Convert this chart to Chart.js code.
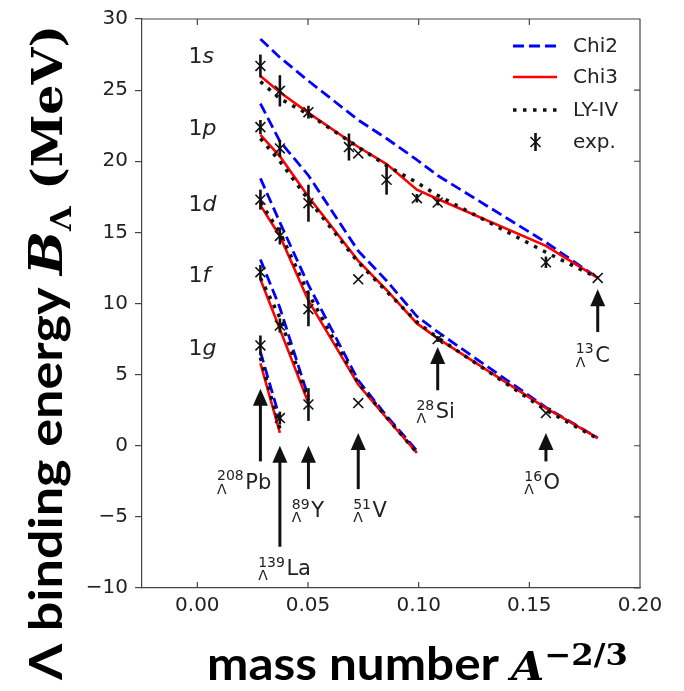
<!DOCTYPE html>
<html>
<head>
<meta charset="utf-8">
<script src="https://cdn.jsdelivr.net/npm/chart.js@4.4.1/dist/chart.umd.min.js"></script>
<style>
  html, body { margin: 0; padding: 0; background: #fff; }
  #wrap { width: 684px; height: 691px; }
</style>
</head>
<body>
<div id="wrap"><canvas id="chart" width="684" height="691"></canvas></div>
<script>
// A^-2/3 of the calculated hypernuclei: Pb, La, Y, V, Ca, S, Si, O, C
const nucX = [0.0285, 0.0373, 0.0502, 0.0727, 0.0855, 0.0992, 0.1086, 0.1575, 0.1809];

// Chi2 (blue dashed)
const chi2_1s = [28.6, 27.3, 25.65, 22.9, 21.6, 20.1, 19.0, 14.3, 11.8];
const chi2_1p = [24.05, 21.4, 19.0, 13.7, 11.6, 9.1, 8.0, 2.7, 0.55];
const chi2_1d = [18.8, 15.7, 11.3, 4.6, 2.1, -0.35];
const chi2_1f = [13.1, 9.7, 3.4];
const chi2_1g = [6.6, 1.9];

// Chi3 (red solid)
const chi3_1s = [26.0, 24.85, 23.4, 21.0, 19.8, 18.0, 17.35, 14.05, 11.8];
const chi3_1p = [21.85, 20.35, 17.5, 13.0, 10.95, 8.6, 7.55, 2.65, 0.55];
const chi3_1d = [16.9, 14.75, 10.2, 4.3, 1.95, -0.5];
const chi3_1f = [11.7, 8.2, 3.0];
const chi3_1g = [5.8, 0.9];

// LY-IV (black dotted)
const ly4_1s = [25.6, 24.4, 23.3, 21.0, 19.7, 18.5, 17.6, 13.6, 11.8];
const ly4_1p = [21.6, 20.0, 17.3, 12.9, 10.85, 8.7, 7.6, 2.5, 0.5];
const ly4_1d = [17.1, 15.0, 10.7, 4.4, 2.0, -0.5];
const ly4_1f = [11.8, 9.0, 3.2];
const ly4_1g = [6.2, 1.2];

// experiment
const expX = [0.0285, 0.0285, 0.0285, 0.0285, 0.0285,
              0.0373, 0.0373, 0.0373, 0.0373, 0.0373,
              0.0502, 0.0502, 0.0502, 0.0502,
              0.0685, 0.0727, 0.0727, 0.0727,
              0.0855, 0.0992, 0.1086, 0.1086, 0.1575, 0.1575, 0.1809];
const expY = [26.7, 22.4, 17.3, 12.2, 7.05,
              24.95, 20.9, 14.75, 8.45, 1.95,
              23.45, 17.05, 9.6, 2.9,
              21.0, 20.55, 11.7, 3.0,
              18.7, 17.4, 17.1, 7.5, 12.9, 2.3, 11.8];
const expErr = [0.8, 0.5, 0.7, 0.5, 0.7,
                1.1, 0.6, 0.6, 0.5, 0.45,
                0.45, 1.3, 1.2, 1.15,
                0.95, 0, 0, 0,
                1.05, 0.3, 0.2, 0.2, 0.4, 0, 0];

const xTicks = [0.00, 0.05, 0.10, 0.15, 0.20];
const yTicks = [-10, -5, 0, 5, 10, 15, 20, 25, 30];

const shellNames = ['s', 'p', 'd', 'f', 'g'];
const shellLabelY = [26.9, 21.85, 16.5, 11.5, 6.4];

// hypernucleus markers: arrow from/to (B in MeV), label anchor (left, baseline)
const nuclei = [
  { mass: '208', sym: 'Pb', x: 0.0285, from: -1.1, to: 4.0,  lx: 0.0089, ly: -3.04 },
  { mass: '139', sym: 'La', x: 0.0373, from: -7.1, to: 0.0,  lx: 0.0275, ly: -9.1 },
  { mass: '89',  sym: 'Y',  x: 0.0502, from: -3.05, to: 0.0, lx: 0.0427, ly: -5.04 },
  { mass: '51',  sym: 'V',  x: 0.0727, from: -3.05, to: 0.9, lx: 0.0704, ly: -5.04 },
  { mass: '28',  sym: 'Si', x: 0.1086, from: 3.9, to: 6.95,  lx: 0.099,  ly: 1.94 },
  { mass: '16',  sym: 'O',  x: 0.1575, from: -1.1, to: 0.9,  lx: 0.1477, ly: -3.06 },
  { mass: '13',  sym: 'C',  x: 0.1809, from: 8.0, to: 11.0,  lx: 0.171,  ly: 5.9 }
];

const BLUE = '#0000ff', RED = '#ff0000', BLACK = '#111111';

const pts = (vals) => vals.map((v, i) => ({ x: nucX[i], y: v }));

const model = (vals, color, dash, width) => ({
  data: pts(vals),
  showLine: true,
  pointRadius: 0,
  borderColor: color,
  borderWidth: width,
  borderDash: dash,
  borderCapStyle: 'butt',
  fill: false
});

const datasets = [
  {
    label: 'exp.',
    data: expX.map((v, i) => ({ x: v, y: expY[i] })),
    pointStyle: 'crossRot',
    pointRadius: 7,
    borderColor: BLACK,
    borderWidth: 1.6,
    showLine: false
  }
];
[ly4_1s, ly4_1p, ly4_1d, ly4_1f, ly4_1g].forEach(a => datasets.push(model(a, BLACK, [3.5, 6.5], 3.5)));
[chi3_1s, chi3_1p, chi3_1d, chi3_1f, chi3_1g].forEach(a => datasets.push(model(a, RED, [], 2.6)));
[chi2_1s, chi2_1p, chi2_1d, chi2_1f, chi2_1g].forEach(a => datasets.push(model(a, BLUE, [11, 5], 2.8)));

function drawSegments(ctx, segs, x0, y0) {
  let x = x0;
  segs.forEach(s => {
    ctx.font = s.f;
    ctx.fillText(s.t, x, y0 + (s.dy || 0));
    x += ctx.measureText(s.t).width;
  });
}
function segWidth(ctx, segs) {
  let w = 0;
  segs.forEach(s => { ctx.font = s.f; w += ctx.measureText(s.t).width; });
  return w;
}
// draws a mixed-font title so that it spans exactly `len` px along its direction
function fitTitle(ctx, segs, cx, cy, len, rot) {
  const w = segWidth(ctx, segs);
  ctx.save();
  ctx.translate(cx, cy);
  ctx.rotate(rot);
  ctx.scale(len / w, 1);
  drawSegments(ctx, segs, -w / 2, 0);
  ctx.restore();
}

const decor = {
  id: 'decor',
  afterDatasetsDraw(chart) {
    const { ctx, scales: { x, y } } = chart;
    ctx.save();
    ctx.strokeStyle = BLACK;
    ctx.lineWidth = 2.6;
    expX.forEach((v, i) => {
      if (!expErr[i]) return;
      const px = x.getPixelForValue(v);
      ctx.beginPath();
      ctx.moveTo(px, y.getPixelForValue(expY[i] - expErr[i]));
      ctx.lineTo(px, y.getPixelForValue(expY[i] + expErr[i]));
      ctx.stroke();
    });
    ctx.restore();
  },
  afterDraw(chart) {
    const { ctx, chartArea: a, scales: { x, y } } = chart;
    ctx.save();

    // frame top/right + inward ticks
    ctx.strokeStyle = '#444';
    ctx.lineWidth = 1.2;
    ctx.beginPath();
    ctx.moveTo(a.left, a.top); ctx.lineTo(a.right, a.top); ctx.lineTo(a.right, a.bottom);
    xTicks.forEach(t => {
      const px = x.getPixelForValue(t);
      ctx.moveTo(px, a.top); ctx.lineTo(px, a.top + 6);
      ctx.moveTo(px, a.bottom); ctx.lineTo(px, a.bottom - 6);
    });
    yTicks.forEach(t => {
      const py = y.getPixelForValue(t);
      ctx.moveTo(a.right, py); ctx.lineTo(a.right - 6, py);
    });
    ctx.stroke();

    // shell labels
    ctx.fillStyle = '#222';
    ctx.textBaseline = 'alphabetic';
    shellNames.forEach((s, i) => {
      drawSegments(ctx, [
        { t: '1', f: '22px "DejaVu Sans"' },
        { t: s, f: 'italic 22px "DejaVu Sans"' }
      ], x.getPixelForValue(-0.004), y.getPixelForValue(shellLabelY[i]));
    });

    // arrows + hypernucleus labels
    ctx.fillStyle = BLACK;
    ctx.strokeStyle = BLACK;
    nuclei.forEach(n => {
      const px = x.getPixelForValue(n.x);
      const yb = y.getPixelForValue(n.from);
      const yt = y.getPixelForValue(n.to);
      const hl = 17, hw = 7.5;
      ctx.lineWidth = 3;
      ctx.beginPath();
      ctx.moveTo(px, yb); ctx.lineTo(px, yt + hl - 1);
      ctx.stroke();
      ctx.beginPath();
      ctx.moveTo(px, yt); ctx.lineTo(px - hw, yt + hl); ctx.lineTo(px + hw, yt + hl);
      ctx.closePath();
      ctx.fill();

      const lx = x.getPixelForValue(n.lx);
      const ly = y.getPixelForValue(n.ly);
      ctx.fillStyle = '#222';
      ctx.font = '14px "DejaVu Sans"';
      const wm = ctx.measureText(n.mass).width;
      ctx.fillText(n.mass, lx, ly - 8.5);
      ctx.fillText('\u039B', lx, ly + 5);
      const wl = ctx.measureText('\u039B').width;
      ctx.font = '21px "DejaVu Sans"';
      ctx.fillText(n.sym, lx + Math.max(wm, wl) + 1.5, ly);
      ctx.fillStyle = BLACK;
    });

    // legend
    const lx0 = a.right - 127, lx1 = a.right - 83, tx = a.right - 67;
    const rows = [a.top + 27, a.top + 58, a.top + 91, a.top + 123];
    ctx.lineCap = 'butt';
    [[BLUE, [11, 5], 2.8], [RED, [], 2.6], [BLACK, [3.5, 6.5], 3.5]].forEach((st, i) => {
      ctx.strokeStyle = st[0]; ctx.setLineDash(st[1]); ctx.lineWidth = st[2];
      ctx.beginPath(); ctx.moveTo(lx0, rows[i]); ctx.lineTo(lx1, rows[i]); ctx.stroke();
    });
    ctx.setLineDash([]);
    const mx = (lx0 + lx1) / 2 + 0.5, my = rows[3];
    ctx.strokeStyle = BLACK;
    ctx.lineWidth = 1.6;
    ctx.beginPath();
    ctx.moveTo(mx - 5, my - 5); ctx.lineTo(mx + 5, my + 5);
    ctx.moveTo(mx + 5, my - 5); ctx.lineTo(mx - 5, my + 5);
    ctx.stroke();
    ctx.lineWidth = 2.6;
    ctx.beginPath(); ctx.moveTo(mx, my - 9); ctx.lineTo(mx, my + 9); ctx.stroke();
    ctx.fillStyle = '#222';
    ctx.font = '20px "DejaVu Sans"';
    ctx.textBaseline = 'middle';
    ['Chi2', 'Chi3', 'LY-IV', 'exp.'].forEach((t, i) => ctx.fillText(t, tx, rows[i] + 1));

    // axis titles
    ctx.fillStyle = '#000';
    ctx.textBaseline = 'alphabetic';
    fitTitle(ctx, [
      { t: 'mass number ', f: 'bold 46px Lato' },
      { t: 'A', f: 'italic bold 40px "DejaVu Serif"' },
      { t: '\u22122/3', f: 'bold 30px "DejaVu Serif"', dy: -15 }
    ], 417.5, 680, 421, 0);

    fitTitle(ctx, [
      { t: '\u039B binding energy ', f: 'bold 46px Lato' },
      { t: 'B', f: 'italic bold 46px "DejaVu Serif"' },
      { t: '\u039B', f: 'bold 28px "DejaVu Serif"', dy: 9 },
      { t: ' (MeV)', f: 'bold 42px "DejaVu Serif"' }
    ], 62, 352.5, 655, -Math.PI / 2);
    ctx.restore();
  }
};

Chart.defaults.font.family = '"DejaVu Sans"';
Chart.defaults.color = '#222';

new Chart(document.getElementById('chart'), {
  type: 'scatter',
  data: { datasets },
  options: {
    responsive: false,
    animation: false,
    devicePixelRatio: 1,
    layout: { padding: { top: 15, right: 44, left: 0, bottom: 0 } },
    plugins: { legend: { display: false }, tooltip: { enabled: false } },
    scales: {
      x: {
        type: 'linear',
        min: -0.025,
        max: 0.2,
        afterFit: s => { s.height = 103; },
        afterBuildTicks: s => { s.ticks = xTicks.map(v => ({ value: v })); },
        grid: { display: false, drawTicks: false },
        border: { color: '#444', width: 1.2 },
        ticks: { font: { size: 20 }, padding: 6, callback: v => v.toFixed(2), maxRotation: 0 }
      },
      y: {
        type: 'linear',
        min: -10,
        max: 30,
        afterFit: s => { s.width = 142; },
        afterBuildTicks: s => { s.ticks = yTicks.map(v => ({ value: v })); },
        grid: { drawOnChartArea: false, tickLength: 7, color: '#444', lineWidth: 1.2 },
        border: { color: '#444', width: 1.2 },
        ticks: { font: { size: 20 }, padding: 7, callback: v => (v < 0 ? '\u2212' + Math.abs(v) : String(v)) }
      }
    }
  },
  plugins: [decor]
});
</script>
</body>
</html>
